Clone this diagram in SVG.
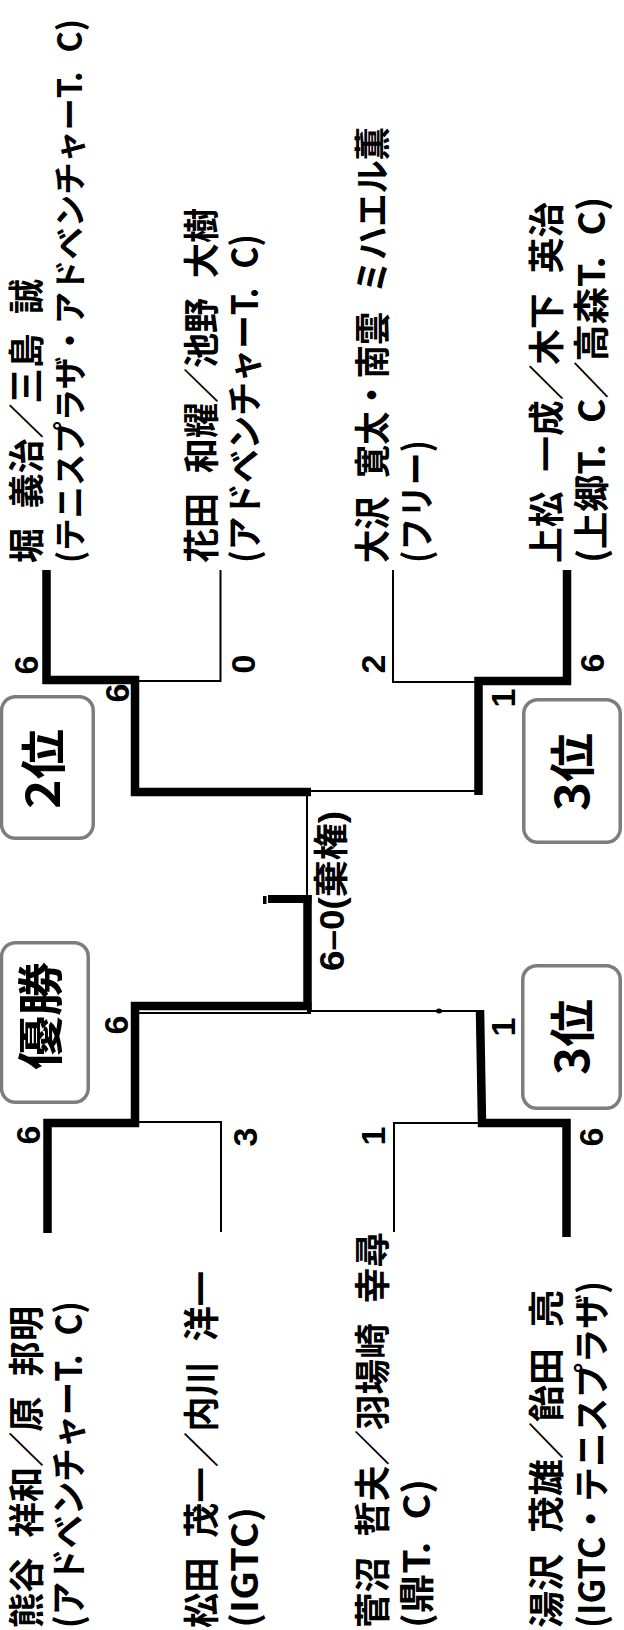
<svg xmlns="http://www.w3.org/2000/svg" width="624" height="1630" viewBox="0 0 624 1630">
<style>
.nm{font-family:"Noto Sans CJK JP","Noto Sans CJK SC",sans-serif;font-size:36px;font-weight:bold;word-spacing:12px;fill:#000}
.sc{font-family:"Liberation Sans","Noto Sans CJK JP",sans-serif;font-size:34px;font-weight:bold;text-anchor:middle;fill:#000}
.bl{font-family:"Noto Sans CJK JP","Noto Sans CJK SC",sans-serif;font-size:46px;font-weight:bold;text-anchor:middle;fill:#000}
.bx{fill:none;stroke:#7d7d7d;stroke-width:3.5}
.tk{fill:none;stroke:#000;stroke-width:8.5;stroke-linejoin:miter}
.tn{fill:none;stroke:#000;stroke-width:2}
</style>
<rect width="624" height="1630" fill="#fff"/>
<g id="connectors">
<path class="tk" d="M46.5,570 V680 H135 V792 H311"/>
<path class="tn" d="M220.5,570 V681 H135"/>
<path class="tn" d="M393,570 V682 H478"/>
<path class="tk" d="M567,570 V681 H478.5 V795"/>
<path class="tn" d="M307,791 H482"/>
<path class="tn" d="M307,791 V899"/>
<rect x="263" y="896" width="3.5" height="8" fill="#000"/>
<path class="tk" d="M268,899 H311.5" style="stroke-width:8"/>
<path class="tk" d="M307.5,895 V1010"/>
<path class="tk" d="M311.5,1006 H135 V1123 H47.5 V1233"/>
<path class="tn" d="M138,1013 H311"/>
<path class="tn" d="M307,1011 H481"/>
<ellipse cx="439" cy="1011" rx="3" ry="2.5" fill="#000"/>
<path class="tn" d="M135,1122 H221 V1232"/>
<path class="tk" d="M480,1010 L482,1123 H566.5 V1237"/>
<path class="tn" d="M478,1123 H394 V1232"/>
</g>
<g id="p1">
<text class="nm" transform="translate(40,563) rotate(-90)" textLength="284" lengthAdjust="spacingAndGlyphs">堀 義治／三島 誠</text>
<text class="nm" style="font-size:33px" transform="translate(82,563) rotate(-90)" textLength="544" lengthAdjust="spacingAndGlyphs">(テニスプラザ・アドベンチャーT. C)</text>
</g>
<g id="p2">
<text class="nm" transform="translate(215,563) rotate(-90)" textLength="355" lengthAdjust="spacingAndGlyphs">花田 和耀／池野 大樹</text>
<text class="nm" transform="translate(258,563) rotate(-90)" textLength="329" lengthAdjust="spacingAndGlyphs">(アドベンチャーT. C)</text>
</g>
<g id="p3">
<text class="nm" transform="translate(386,563) rotate(-90)" textLength="436" lengthAdjust="spacingAndGlyphs">大沢 寛太・南雲 ミハエル薫</text>
<text class="nm" transform="translate(430,563) rotate(-90)" textLength="123" lengthAdjust="spacingAndGlyphs">(フリー)</text>
</g>
<g id="p4">
<text class="nm" transform="translate(560,563) rotate(-90)" textLength="361" lengthAdjust="spacingAndGlyphs">上松 一成／木下 英治</text>
<text class="nm" transform="translate(605,563) rotate(-90)" textLength="366" lengthAdjust="spacingAndGlyphs">(上郷T. C／高森T. C)</text>
</g>
<g id="p5">
<text class="nm" transform="translate(40,1628) rotate(-90)" textLength="322" lengthAdjust="spacingAndGlyphs">熊谷 祥和／原 邦明</text>
<text class="nm" transform="translate(82,1628) rotate(-90)" textLength="327" lengthAdjust="spacingAndGlyphs">(アドベンチャーT. C)</text>
</g>
<g id="p6">
<text class="nm" transform="translate(215,1628) rotate(-90)" textLength="357" lengthAdjust="spacingAndGlyphs">松田 茂一／内川 洋一</text>
<text class="nm" transform="translate(258,1628) rotate(-90)" textLength="121" lengthAdjust="spacingAndGlyphs">(IGTC)</text>
</g>
<g id="p7">
<text class="nm" transform="translate(386,1628) rotate(-90)" textLength="396" lengthAdjust="spacingAndGlyphs">菅沼 哲夫／羽場崎 幸尋</text>
<text class="nm" transform="translate(430,1628) rotate(-90)" textLength="149" lengthAdjust="spacingAndGlyphs">(鼎T. C)</text>
</g>
<g id="p8">
<text class="nm" transform="translate(560,1628) rotate(-90)" textLength="338" lengthAdjust="spacingAndGlyphs">湯沢 茂雄／飴田 亮</text>
<text class="nm" transform="translate(605,1628) rotate(-90)" textLength="347" lengthAdjust="spacingAndGlyphs">(IGTC・テニスプラザ)</text>
</g>
<g id="scores">
<text class="sc" transform="translate(38,665) rotate(-90)">6</text>
<text class="sc" transform="translate(255,664) rotate(-90)">0</text>
<text class="sc" transform="translate(129,693) rotate(-90)">6</text>
<text class="sc" transform="translate(385,664) rotate(-90)">2</text>
<text class="sc" transform="translate(604,663) rotate(-90)">6</text>
<text class="sc" transform="translate(515,698) rotate(-90)">1</text>
<text class="sc" transform="translate(128,1025) rotate(-90)">6</text>
<text class="sc" transform="translate(515,1027) rotate(-90)">1</text>
<text class="sc" transform="translate(40,1135) rotate(-90)">6</text>
<text class="sc" transform="translate(257,1137) rotate(-90)">3</text>
<text class="sc" transform="translate(385,1136) rotate(-90)">1</text>
<text class="sc" transform="translate(603,1137) rotate(-90)">6</text>
</g>
<g id="final-score">
<text class="sc" style="text-anchor:start;font-size:35px" transform="translate(344,971) rotate(-90)" textLength="160" lengthAdjust="spacingAndGlyphs">6–0(棄権)</text>
</g>
<g id="box-2nd">
<rect class="bx" x="1.5" y="696.75" width="91.75" height="141.5" rx="14"/>
<text class="bl" transform="translate(60,769) rotate(-90)" textLength="80" lengthAdjust="spacingAndGlyphs">2位</text>
</g>
<g id="box-3rd-top">
<rect class="bx" x="523.75" y="699.75" width="96.5" height="142.5" rx="14"/>
<text class="bl" transform="translate(589,772) rotate(-90)" textLength="78" lengthAdjust="spacingAndGlyphs">3位</text>
</g>
<g id="box-winner">
<rect class="bx" x="1.5" y="942.75" width="86.75" height="159.5" rx="14"/>
<text class="bl" transform="translate(57,1016) rotate(-90)" textLength="108" lengthAdjust="spacingAndGlyphs">優勝</text>
</g>
<g id="box-3rd-bottom">
<rect class="bx" x="522.75" y="965.75" width="97.5" height="142.5" rx="14"/>
<text class="bl" transform="translate(589,1037) rotate(-90)" textLength="76" lengthAdjust="spacingAndGlyphs">3位</text>
</g>
</svg>
